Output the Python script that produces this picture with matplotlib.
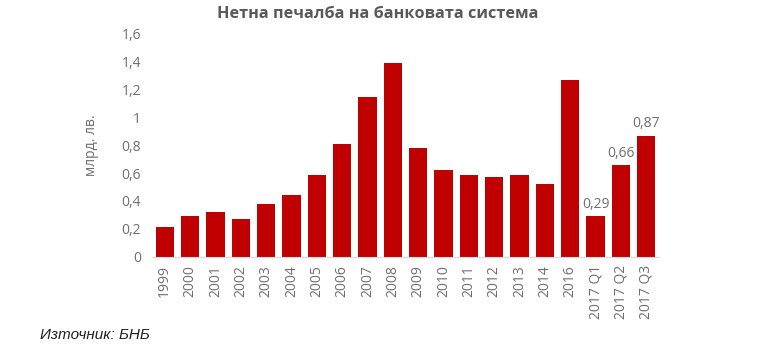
import matplotlib.pyplot as plt
from matplotlib.ticker import FuncFormatter

plt.rcParams['font.family'] = ['Open Sans', 'DejaVu Sans']

# -------------------------
# DATA
# -------------------------
periods = ["1999", "2000", "2001", "2002", "2003", "2004", "2005", "2006",
           "2007", "2008", "2009", "2010", "2011", "2012", "2013", "2014",
           "2016", "2017 Q1", "2017 Q2", "2017 Q3"]
profit = [0.21, 0.29, 0.32, 0.27, 0.38, 0.44, 0.59, 0.81,
          1.15, 1.39, 0.78, 0.62, 0.59, 0.57, 0.59, 0.52,
          1.27, 0.29, 0.66, 0.87]
labelled = ["2017 Q1", "2017 Q2", "2017 Q3"]

grey = "#6E6E6E"
red = "#C00000"

# -------------------------
# PLOT
# -------------------------
fig = plt.figure(figsize=(7.68, 3.58), dpi=100)
ax = fig.add_axes([152/768, 1 - 256.7/358, (659-152)/768, (256.7-33.9)/358])

x = range(len(periods))
ax.bar(x, profit, width=0.72, color=red)

for xi, p, v in zip(x, periods, profit):
    if p in labelled:
        ax.text(xi, v + 0.03, f"{v:.2f}".replace(".", ","), ha="center", va="bottom",
                fontsize=10, color=grey)

ax.set_xlim(-0.5, len(periods) - 0.5)
ax.set_ylim(0, 1.6)
ax.set_yticks([0, 0.2, 0.4, 0.6, 0.8, 1.0, 1.2, 1.4, 1.6])
ax.yaxis.set_major_formatter(FuncFormatter(lambda v, _: f"{v:g}".replace(".", ",")))
ax.set_xticks(list(x))
ax.set_xticklabels(periods, rotation=90)
ax.tick_params(axis="both", length=0, labelsize=10, labelcolor=grey)
ax.tick_params(axis="x", pad=6)
ax.tick_params(axis="y", pad=8)

for s in ["top", "right", "left"]:
    ax.spines[s].set_visible(False)
ax.spines["bottom"].set_color("#D9D9D9")

ax.set_ylabel("млрд. лв.", fontsize=10, color=grey)
ax.yaxis.set_label_coords(-0.105, 0.5)

fig.text(378/768, 1 - 14/358, "Нетна печалба на банковата система", ha="center", va="center",
         fontsize=11.7, fontweight="bold", color="#595959")
fig.text(40/768, 1 - 335/358, "Източник: БНБ", ha="left", va="center",
         fontsize=11, style="italic", family=["Liberation Sans", "DejaVu Sans"], color="#222222")

plt.savefig("out.png", dpi=100)
